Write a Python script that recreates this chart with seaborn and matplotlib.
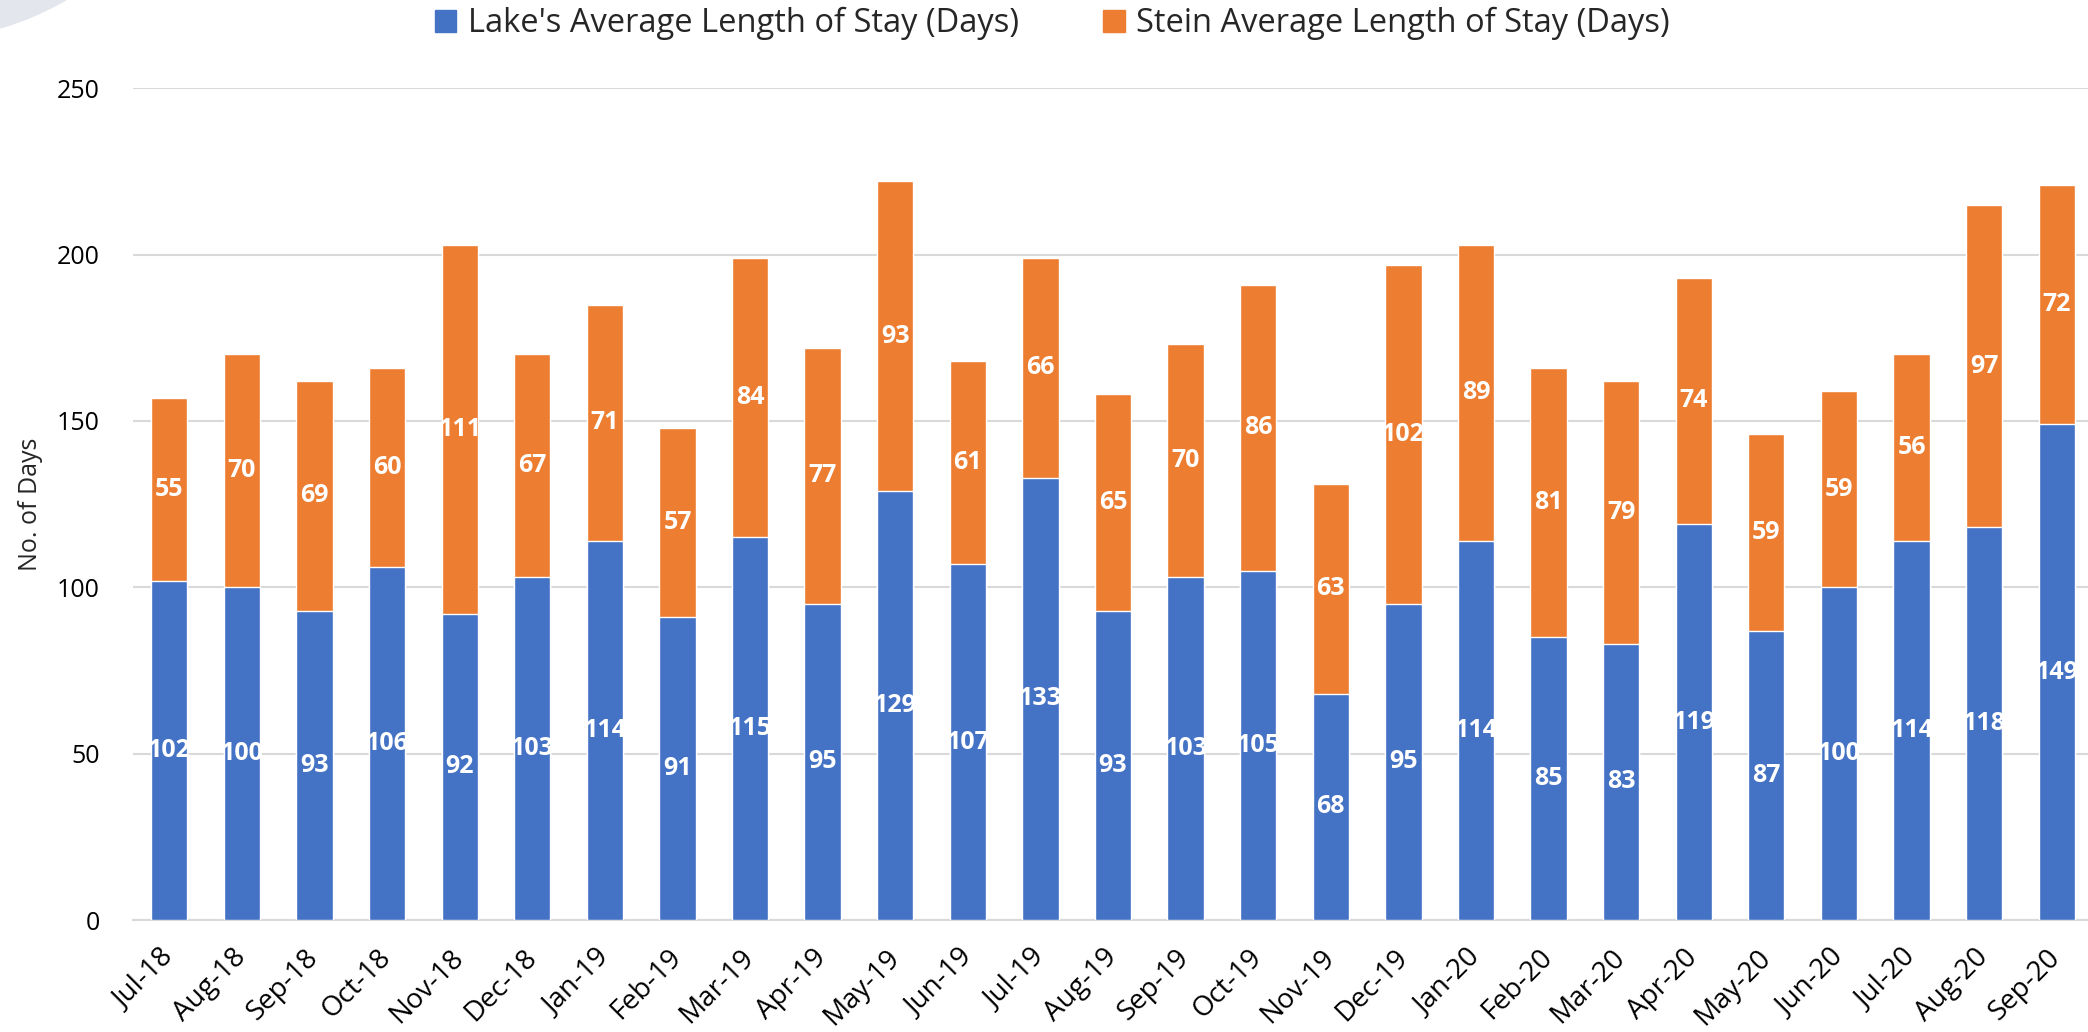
import matplotlib
matplotlib.use("Agg")
import matplotlib.pyplot as plt
from matplotlib.patches import Ellipse
import seaborn as sns
import pandas as pd
import numpy as np

months = ["Jul-18", "Aug-18", "Sep-18", "Oct-18", "Nov-18", "Dec-18", "Jan-19", "Feb-19",
          "Mar-19", "Apr-19", "May-19", "Jun-19", "Jul-19", "Aug-19", "Sep-19", "Oct-19",
          "Nov-19", "Dec-19", "Jan-20", "Feb-20", "Mar-20", "Apr-20", "May-20", "Jun-20",
          "Jul-20", "Aug-20", "Sep-20"]
lake = [102, 100, 93, 106, 92, 103, 114, 91, 115, 95, 129, 107, 133, 93, 103, 105,
        68, 95, 114, 85, 83, 119, 87, 100, 114, 118, 149]
stein = [55, 70, 69, 60, 111, 67, 71, 57, 84, 77, 93, 61, 66, 65, 70, 86,
         63, 102, 89, 81, 79, 74, 59, 59, 56, 97, 72]
y_ticks = [0, 50, 100, 150, 200, 250]
lake_name = "Lake's Average Length of Stay (Days)"
stein_name = "Stein Average Length of Stay (Days)"
y_title = "No. of Days"

BLUE = "#4472C4"
ORANGE = "#ED7D31"

sns.set_theme(style="white")
plt.rcParams['font.family'] = ['Open Sans', 'DejaVu Sans']

df = pd.DataFrame({"month": months, "lake": lake, "stein": stein})
df["total"] = df["lake"] + df["stein"]

W, H = 2088, 1032
fig = plt.figure(figsize=(W / 100, H / 100), dpi=100)

# faint grey corner shape (background artefact in the original)
fig.patches.append(Ellipse((-80 / W, 1 + 250 / H), 2 * 290 / W, 2 * 290 / H,
                           transform=fig.transFigure, facecolor="#E3E6EC",
                           edgecolor="none", zorder=0))

ax = fig.add_axes([0.0637, 0.1085, 0.9387, 0.806])
ax.patch.set_alpha(0)

sns.barplot(data=df, x="month", y="total", color=ORANGE, width=0.5, ax=ax,
            saturation=1, zorder=2)
sns.barplot(data=df, x="month", y="lake", color=BLUE, width=0.5, ax=ax,
            saturation=1, zorder=3)
if ax.get_legend() is not None:
    ax.get_legend().remove()

for i, (l, s) in enumerate(zip(lake, stein)):
    ax.text(i, l / 2, str(l), ha="center", va="center", color="white",
            fontsize=18, fontweight="bold", zorder=5)
    ax.text(i, l + s / 2, str(s), ha="center", va="center", color="white",
            fontsize=18, fontweight="bold", zorder=5)

ax.set_xlim(-0.5, len(months) - 0.5)
ax.set_ylim(0, 250)
ax.set_yticks(y_ticks)
ax.yaxis.grid(True, color="#D9D9D9", linewidth=1.5, zorder=0)
ax.set_axisbelow(True)
for side in ["top", "right", "left"]:
    ax.spines[side].set_visible(False)
ax.spines["bottom"].set_color("#D9D9D9")
ax.spines["bottom"].set_linewidth(1.5)

ax.tick_params(axis="y", length=0, pad=24, labelsize=18, labelcolor="black")
ax.set_xticks(range(len(months)))
ax.set_xticklabels(months, rotation=45, ha="right", va="center",
                   rotation_mode="anchor", fontsize=20)
ax.tick_params(axis="x", which="major", length=0, pad=24, labelcolor="black")
ax.set_xticks(np.arange(-0.5, len(months), 1.0), minor=True)
ax.tick_params(axis="x", which="minor", length=10, width=1.5, color="#D9D9D9",
               direction="out")
ax.set_xlabel("")
ax.set_ylabel(y_title, fontsize=18)
ax.yaxis.set_label_coords(-0.046, 0.5)

handles = [plt.Rectangle((0, 0), 1, 1, color=BLUE), plt.Rectangle((0, 0), 1, 1, color=ORANGE)]
fig.legend(handles, [lake_name, stein_name], loc="center", bbox_to_anchor=(0.504, 0.977),
           ncol=2, frameon=False, fontsize=23.5, handlelength=0.65, handleheight=0.65,
           handletextpad=0.35, columnspacing=2.6)

fig.savefig("out.png", dpi=100)
